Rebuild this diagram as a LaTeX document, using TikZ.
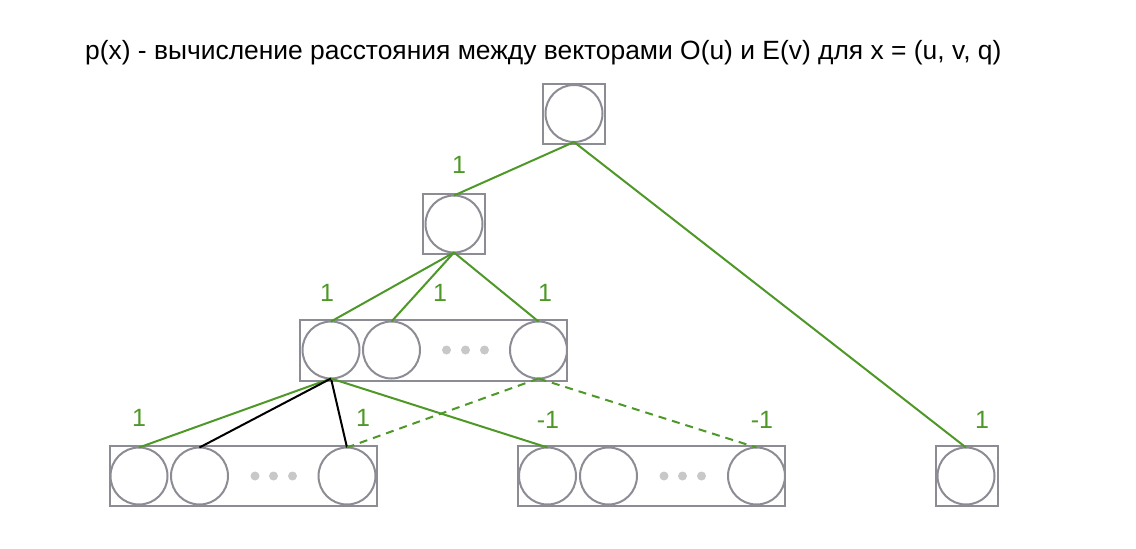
\documentclass[tikz,border=0pt]{standalone}
\usepackage{fontspec}
\setmainfont{Liberation Sans}
\definecolor{lgreen}{RGB}{78,152,40}
\definecolor{boxgray}{RGB}{140,140,148}
\definecolor{dotgray}{RGB}{200,200,200}
\begin{document}
\begin{tikzpicture}[x=1pt,y=-1pt,
  boxn/.style={draw=boxgray,line width=2pt,inner sep=0pt,outer sep=0pt},
  smallbox/.style={boxn,minimum width=62pt,minimum height=60pt},
  widebox/.style={boxn,minimum width=267pt,minimum height=61pt},
  circ/.style={circle,draw=boxgray,line width=2pt,minimum size=57pt,inner sep=0pt,outer sep=0pt},
  dotn/.style={circle,fill=dotgray,minimum size=9pt,inner sep=0pt},
  gline/.style={draw=lgreen,line width=2pt},
  bline/.style={draw=black,line width=2pt},
  dline/.style={draw=lgreen,line width=2pt,dash pattern=on 8pt off 6pt},
  lbl/.style={text=lgreen,font=\fontsize{25}{30}\selectfont,inner sep=0pt}
]
\useasboundingbox (0,0) rectangle (1136,549);
\node[anchor=base west,inner sep=0pt,font=\fontsize{26.4}{31}\selectfont] (title) at (85,59) {p(x) - вычисление расстояния между векторами O(u) и E(v) для x = (u, v, q)};
% top
\node[smallbox] (tb) at (574,113.5) {};
\node[circ] (t) at (574,113.5) {};
% second
\node[smallbox] (sb) at (454,224) {};
\node[circ] (s) at (454,224) {};
% middle row
\node[widebox] (mb) at (433.7,350) {};
\node[circ] (m1) at (331,350) {};
\node[circ] (m2) at (391.5,350) {};
\node[circ] (m3) at (538.5,350) {};
\node[dotn] (md1) at (446.5,350) {};
\node[dotn] (md2) at (465.5,350) {};
\node[dotn] (md3) at (484.5,350) {};
% bottom left
\node[widebox,minimum height=60pt] (lb) at (243,476) {};
\node[circ] (l1) at (139,476) {};
\node[circ] (l2) at (199.5,476) {};
\node[circ] (l3) at (347,476) {};
\node[dotn] (ld1) at (255,476) {};
\node[dotn] (ld2) at (273.5,476) {};
\node[dotn] (ld3) at (292.5,476) {};
% bottom middle
\node[widebox,minimum height=60pt] (cb) at (651.5,476) {};
\node[circ] (c1) at (547.5,476) {};
\node[circ] (c2) at (608.5,476) {};
\node[circ] (c3) at (756.5,476) {};
\node[dotn] (cd1) at (664,476) {};
\node[dotn] (cd2) at (682.5,476) {};
\node[dotn] (cd3) at (701.5,476) {};
% right
\node[smallbox] (rb) at (967,476) {};
\node[circ] (r) at (966,476) {};
% edges
\draw[gline] (t.south) -- (s.north);
\draw[gline] (t.south) -- (r.north);
\draw[gline] (s.south) -- (m1.north);
\draw[gline] (s.south) -- (m2.north);
\draw[gline] (s.south) -- (m3.north);
\draw[gline] (m1.south) -- (l1.north);
\draw[bline] (m1.south) -- (l2.north);
\draw[bline] (m1.south) -- (l3.north);
\draw[gline] (m1.south) -- (c1.north);
\draw[dline] (m3.south) -- (l3.north);
\draw[dline] (m3.south) -- (c3.north);
% labels
\node[lbl] (e1) at (459,165) {1};
\node[lbl] (e2) at (327,293) {1};
\node[lbl] (e3) at (440,293) {1};
\node[lbl] (e4) at (545,293) {1};
\node[lbl] (e5) at (139,418) {1};
\node[lbl] (e6) at (363,418) {1};
\node[lbl] (e7) at (548,420) {-1};
\node[lbl] (e8) at (762,420) {-1};
\node[lbl] (e9) at (982,420) {1};
\end{tikzpicture}
\end{document}
